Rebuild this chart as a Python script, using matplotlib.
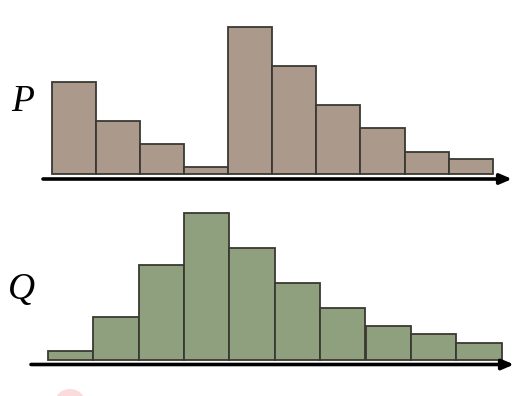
import numpy as np
import matplotlib
matplotlib.use("Agg")
import matplotlib.pyplot as plt
from matplotlib.patches import Ellipse

# bar heights (pixels above the baseline)
bins = np.arange(10)
p_vals = [92, 53, 30, 7, 147, 108, 69, 46, 22, 15]
q_vals = [9, 43, 95, 147, 112, 77, 52, 34, 26, 17]

p_color = "#ab9a8b"
q_color = "#8fa07f"
edge = "#3a3832"

W, H = 532, 396
fig = plt.figure(figsize=(W / 100, H / 100), dpi=100)
fig.patch.set_facecolor("white")

# faint pink blob at the bottom (cursor mark in the original)
bg = fig.add_axes([0, 0, 1, 1], zorder=0)
bg.set_xlim(0, W)
bg.set_ylim(H, 0)
bg.axis("off")
bg.add_patch(Ellipse((70, 402), 30, 26, color="#fbd3d3", lw=0, alpha=0.8))


def panel(top, bottom, base, x0, bw, vals, color, arrow_x, arrow_y, label, label_xy):
    ax = fig.add_axes([0, (H - bottom) / H, 1, (bottom - top) / H], zorder=1)
    ax.patch.set_alpha(0)
    ax.set_xlim(-x0 / bw, (W - x0) / bw)
    ax.set_ylim(-(bottom - base), base - top)
    ax.axis("off")
    ax.bar(bins, vals, width=1, align="edge", color=color,
           edgecolor=edge, linewidth=1.3)
    ax.annotate("", xy=((arrow_x[1] - x0) / bw, base - arrow_y),
                xytext=((arrow_x[0] - x0) / bw, base - arrow_y),
                arrowprops=dict(arrowstyle="-|>,head_length=0.7,head_width=0.3",
                                color="black", lw=2.6, shrinkA=0, shrinkB=0))
    bg.text(label_xy[0], label_xy[1], label, fontsize=27, style="italic",
            family="Liberation Serif", ha="center", va="center")
    return ax


panel(0, 200, 174, 51.7, 44.1, p_vals, p_color, (43, 512), 179, "P", (23, 102))
panel(200, 396, 360, 47.7, 45.4, q_vals, q_color, (31, 514), 364.5, "Q", (22, 290))

fig.savefig("out.png", dpi=100)
